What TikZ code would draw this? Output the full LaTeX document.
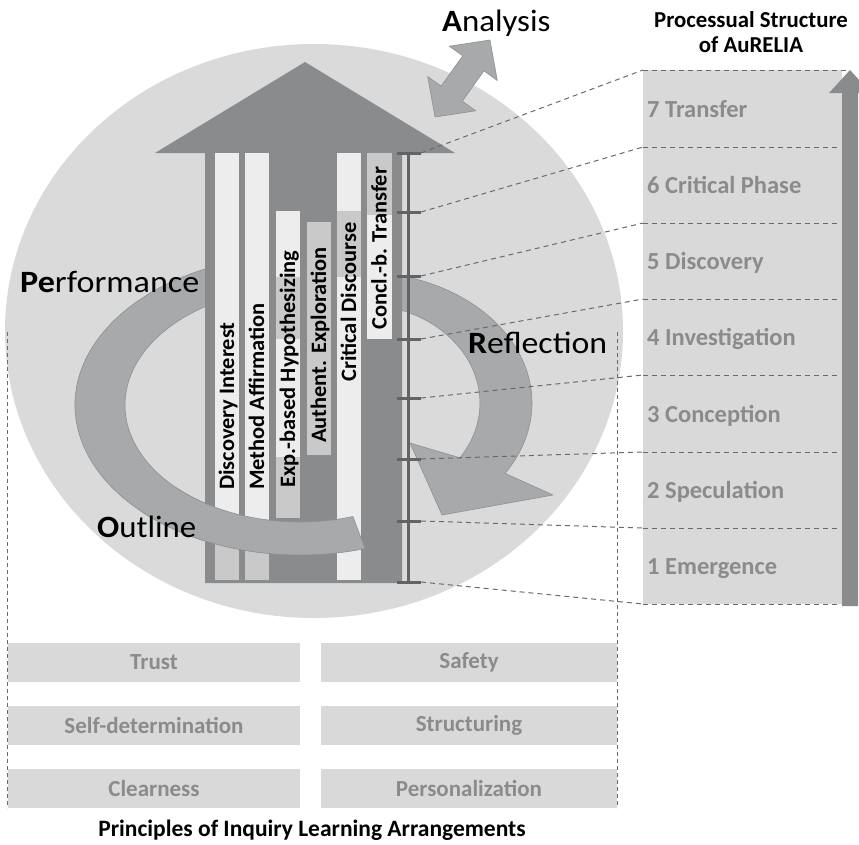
\documentclass[tikz,border=0pt]{standalone}
\usepackage{fontspec}
\setmainfont{Carlito}
\definecolor{ellc}{HTML}{DADADA}
\definecolor{shaftc}{HTML}{898B8D}
\definecolor{bandc}{HTML}{A7A9AB}
\definecolor{bandline}{HTML}{8E9092}
\definecolor{lightc}{HTML}{EDEDED}
\definecolor{midc}{HTML}{C9C9C9}
\definecolor{tickc}{HTML}{616365}
\definecolor{panelc}{HTML}{D9D9D9}
\definecolor{ptext}{HTML}{8B8B8B}
\definecolor{dashc}{HTML}{6A6A6A}
\newcommand\colstr[1]{\scalebox{1.02}[1]{#1}}
\newcommand\labstr[1]{\scalebox{1.06}[1]{#1}}
\tikzset{
  band/.style={fill=bandc, draw=bandline, line width=0.6},
  conn/.style={draw=dashc, line width=1, dash pattern=on 5 off 4},
  framedash/.style={draw=dashc, line width=0.8, dash pattern=on 4 off 3},
  coltext/.style={rotate=90, anchor=base west, inner sep=0, font=\bfseries\fontsize{22}{26}\selectfont},
  biglab/.style={anchor=base west, inner sep=0, font=\fontsize{31}{36}\selectfont},
  phase/.style={anchor=base west, inner sep=0, text=ptext, font=\bfseries\fontsize{24.5}{28}\selectfont},
  pbox/.style={fill=panelc, inner sep=0, text=ptext, font=\bfseries\fontsize{23}{27}\selectfont},
  ttl/.style={anchor=base, inner sep=0, font=\bfseries\fontsize{22.8}{26}\selectfont},
}
\begin{document}
\begin{tikzpicture}[x=1pt,y=1pt,line join=round]
\useasboundingbox (0,0) rectangle (859,-844);
% ellipse
\fill[ellc] (314,-331) ellipse [x radius=309, y radius=287];
% frame of principles
\draw[framedash] (7,-332) -- (7,-808);
\draw[framedash] (617,-332) -- (617,-808);
% Analysis double arrow
\begin{scope}[shift={(462.5,-78.5)}, rotate=54.5]
\filldraw[band] (47.3,0) -- (18.6,29.5) -- (18.6,13) -- (-18.6,13) -- (-18.6,29.5) -- (-47.3,0) -- (-18.6,-29.5) -- (-18.6,-13) -- (18.6,-13) -- (18.6,-29.5) -- cycle;
\end{scope}
% right band (Reflection) behind shaft
\filldraw[band] (360,-403) ++(80:172 and 131) arc[start angle=80, end angle=-32.5, x radius=172, y radius=131]
  -- (553,-495) -- (442,-515) -- (410,-443) -- (459.9,-457.8)
  arc[start angle=-33.6, end angle=80, x radius=120, y radius=99] -- cycle;
% left band full
\filldraw[band] (300,-405) ++(100:225 and 150) arc[start angle=100, end angle=286.8, x radius=225, y radius=150]
  -- (352.9,-516.5) arc[start angle=287.6, end angle=100, x radius=175, y radius=117] -- cycle;
% main arrow
\fill[shaftc] (205,-583) -- (205,-153) -- (155,-153) -- (305,-62) -- (455,-153) -- (402,-153) -- (402,-583) -- cycle;
% columns
\fill[lightc] (215,-153) rectangle (239,-521);
\fill[midc]   (215,-521) rectangle (239,-580);
\fill[lightc] (245,-153) rectangle (269,-521);
\fill[midc]   (245,-521) rectangle (269,-580);
\fill[lightc] (276,-211) rectangle (300,-277);
\fill[midc]   (276,-277) rectangle (300,-339);
\fill[lightc] (276,-339) rectangle (300,-457);
\fill[midc]   (276,-457) rectangle (300,-518);
\fill[midc]   (307,-222) rectangle (331,-455);
\fill[lightc] (337,-153) rectangle (361,-211);
\fill[midc]   (337,-211) rectangle (361,-277);
\fill[lightc] (337,-277) rectangle (361,-580);
\fill[midc]   (367,-153) rectangle (392,-215);
\fill[lightc] (367,-215) rectangle (392,-339);
\node[coltext] (c1) at (234,-490) {\colstr{Discovery Interest}};
\node[coltext] (c2) at (264,-490) {\colstr{Method Affirmation}};
\node[coltext] (c3) at (295,-488) {\colstr{Exp.-based Hypothesizing}};
\node[coltext] (c4) at (326,-443) {\colstr{Authent. Exploration}};
\node[coltext] (c5) at (356,-382) {\colstr{Critical Discourse}};
\node[coltext] (c6) at (386.5,-330) {\colstr{Concl.-b. Transfer}};
% left band front part
\filldraw[band] (300,-405) ++(225:225 and 150) arc[start angle=225, end angle=286.8, x radius=225, y radius=150]
  -- (352.9,-516.5) arc[start angle=287.6, end angle=225, x radius=175, y radius=117];
% tick bar
\draw[tickc, line width=3] (408,-153) -- (408,-583);
\foreach \i/\y in {7/153,6/212,5/276,4/339,3/398,2/459,1/521,0/582}{
  \draw[tickc, line width=3] (397,-\y) -- (421,-\y);
  \coordinate (t\i) at (421,-\y);
}
% right panel
\fill[panelc] (643,-70) rectangle (842,-604);
\fill[shaftc] (842,-606) -- (842,-93) -- (829,-93) -- (850,-70) -- (871,-93) -- (858,-93) -- (858,-606) -- cycle;
\foreach \i/\y in {7/70,6/147,5/223,4/299,3/375,2/452,1/528,0/604}{
  \coordinate (p\i) at (643,-\y);
  \coordinate (q\i) at (841,-\y);
}
\coordinate (q7) at (849,-70);
\foreach \i in {0,...,7}{
  \draw[conn] (p\i) -- (q\i);
  \draw[conn] (t\i) -- (p\i);
}
\node[phase] (ph7) at (647,-117) {7 Transfer};
\node[phase] (ph6) at (647,-193.5) {6 Critical Phase};
\node[phase] (ph5) at (647,-269.5) {5 Discovery};
\node[phase] (ph4) at (647,-345.5) {4 Investigation};
\node[phase] (ph3) at (647,-422) {3 Conception};
\node[phase] (ph2) at (647,-498.5) {2 Speculation};
\node[phase] (ph1) at (647,-574.5) {1 Emergence};
\node[ttl] (title1) at (751,-27) {Processual Structure};
\node[ttl] (title2) at (751,-52) {of AuRELIA};
% big labels
\node[biglab] (ana) at (442,-31) {\labstr{\textbf{A}nalysis}};
\node[biglab] (perf) at (20,-292) {\scalebox{1.1}[1]{\textbf{Pe}rformance}};
\node[biglab] (outl) at (97,-537) {\labstr{\textbf{O}utline}};
\node[biglab] (refl) at (468,-353) {\scalebox{1.09}[1]{\textbf{R}eflection}};
% principles
\node[pbox, minimum width=292, minimum height=39] (trust) at (154,-662.5) {Trust};
\node[pbox, minimum width=296, minimum height=39] (safety) at (469,-662.5) {Safety};
\node[pbox, minimum width=292, minimum height=39] (selfd) at (154,-725.5) {Self-determination};
\node[pbox, minimum width=296, minimum height=39] (struct) at (469,-725.5) {Structuring};
\node[pbox, minimum width=292, minimum height=39] (clear) at (154,-788.5) {Clearness};
\node[pbox, minimum width=296, minimum height=39] (pers) at (469,-788.5) {Personalization};
\node[ttl, font=\bfseries\fontsize{23.5}{27}\selectfont] (ptitle) at (312,-836) {Principles of Inquiry Learning Arrangements};
\end{tikzpicture}
\end{document}
